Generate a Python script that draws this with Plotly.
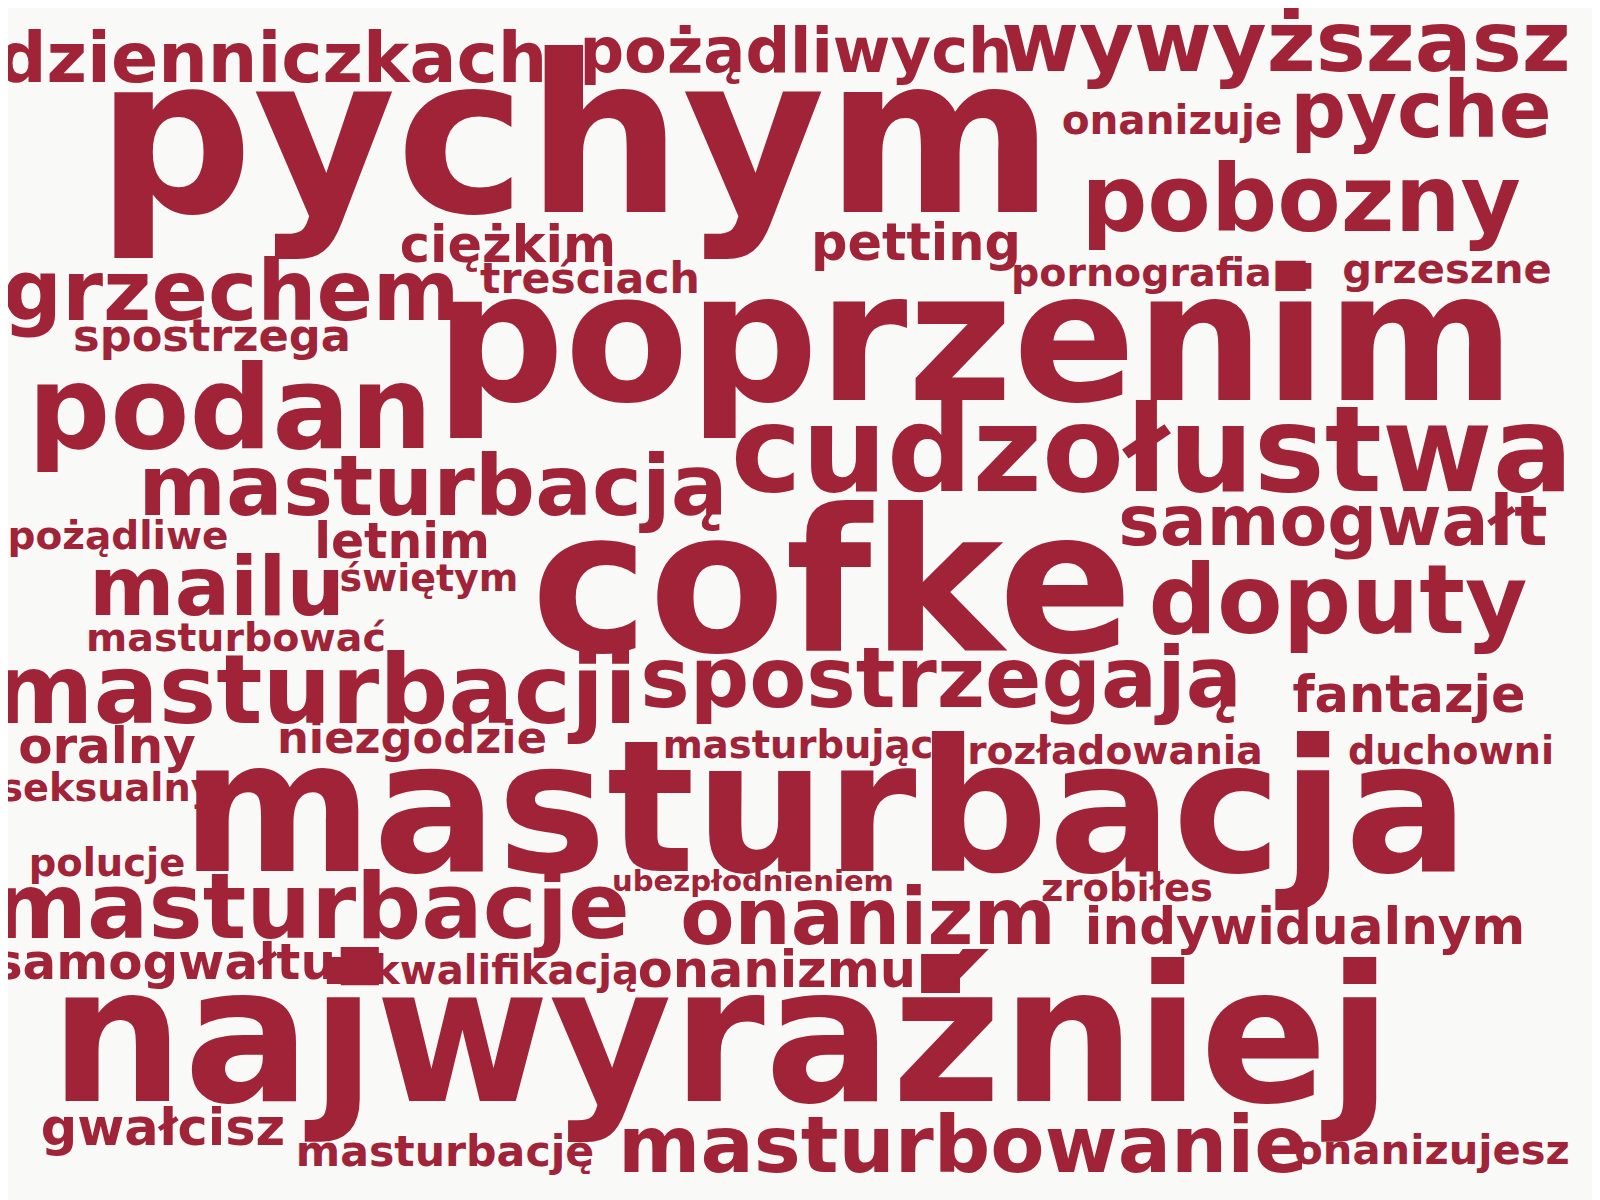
import plotly.graph_objects as go

# word cloud: words, centre x, baseline y (reference pixels), font size
words = ['dzienniczkach', 'pożądliwych', 'wywyższasz', 'pychym', 'onanizuje', 'pyche',
         'pobozny', 'ciężkim', 'petting', 'treściach', 'pornografia■', 'grzeszne',
         'grzechem', 'spostrzega', 'poprzenim', 'podan', 'cudzołustwa', 'masturbacją',
         'samogwałt', 'pożądliwe', 'letnim', 'cofke', 'mailu', 'świętym', 'doputy',
         'masturbować', 'masturbacji', 'spostrzegają', 'fantazje', 'oralny', 'niezgodzie',
         'masturbując', 'rozładowania', 'duchowni', 'seksualny', 'masturbacja', 'polucje',
         'ubezpłodnieniem', 'zrobiłes', 'masturbacje', 'onanizm', 'indywidualnym',
         'samogwałtu■', 'kwalifikacją', 'onanizmu■', 'najwyraźniej', 'gwałcisz',
         'masturbację', 'masturbowanie', 'onanizujesz']
word_x = [272, 796, 1286, 575, 1172, 1421, 1301, 508, 916, 590, 1160, 1447,
          231, 212, 975, 230, 1152, 433, 1333, 118, 402, 832, 217, 429, 1338,
          236, 315, 941, 1409, 107, 412, 798, 1115, 1451, 108, 825, 107,
          753, 1127, 311, 868, 1305, 188, 506, 801, 721, 163,
          445, 963, 1432]
word_base = [80, 70, 68, 205, 133, 135, 228, 260, 258, 292, 285, 282,
             318, 350, 395, 445, 487, 512, 543, 548, 557, 645, 613, 590, 630,
             650, 720, 705, 710, 762, 752, 757, 763, 763, 800, 865, 875,
             890, 900, 935, 942, 942, 978, 983, 985, 1095, 1143,
             1165, 1170, 1163]
word_size = [67, 60, 81, 211, 39, 75, 89, 49, 49, 41, 38, 40,
             80, 43, 174, 111, 115, 81, 67, 37.5, 47, 191, 79, 36.5, 92,
             38, 93, 80, 49, 48, 43, 37, 37.7, 36.7, 36.8, 177, 37,
             28, 37, 87.6, 76, 49.6, 48, 38.5, 49, 181, 49,
             41, 76, 40]

scale = 1.04
off = 8  # page body margin

fig = go.Figure()
for w, x, b, s in zip(words, word_x, word_base, word_size):
    fs = s * scale
    fig.add_trace(go.Scatter(
        x=[x], y=[b - 0.22 * fs], mode='text', text=[w],
        textposition='middle center', hoverinfo='skip',
        textfont=dict(family='DejaVu Sans', size=fs, color='#a12337', weight='bold'),
    ))

fig.update_layout(
    width=1600, height=1200, showlegend=False,
    margin=dict(l=0, r=0, t=0, b=0),
    paper_bgcolor='#f9f9f7', plot_bgcolor='#f9f9f7',
    xaxis=dict(range=[off, 1600 + off], visible=False, fixedrange=True),
    yaxis=dict(range=[1200 + off, off], visible=False, fixedrange=True),
)
fig.write_html("out.html")
